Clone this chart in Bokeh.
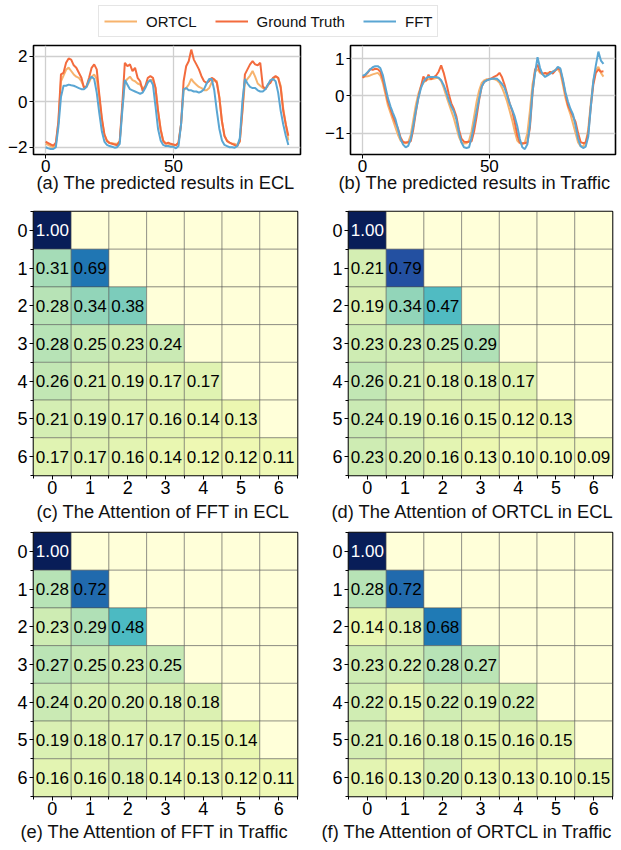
from bokeh.plotting import figure
from bokeh.models import Range1d, FixedTicker, Legend, LegendItem, LinearColorMapper, ColumnDataSource, Title
from bokeh.layouts import column, row
from bokeh.palettes import YlGnBu9
from bokeh.core.properties import value, field
from bokeh.embed import file_html
from bokeh.resources import INLINE

FONT = "Liberation Sans"

# ---------------- data ----------------
steps = list(range(96))
series_names = ["ORTCL", "Ground Truth", "FFT"]
series_colors = ["#f7b36d", "#f36b3d", "#5aa6d3"]

ecl_ortcl = [-1.85, -1.9, -1.95, -2.0, -1.9, -0.9, 0.9, 1.15, 1.4, 1.5, 1.35, 1.2, 1.1, 1.05, 0.9, 0.65,
             0.65, 0.85, 1.1, 1.2, 1.0, 0.2, -0.8, -1.45, -1.7, -1.8, -1.82, -1.85, -1.85, -1.75, -0.3, 0.85,
             1.0, 1.1, 0.95, 0.9, 0.8, 0.75, 0.6, 0.65, 0.85, 0.95, 0.95, 0.6, -0.4, -1.2, -1.7, -1.82,
             -1.85, -1.88, -1.9, -1.9, -1.8, -1.0, 0.5, 0.6, 0.75, 1.0, 0.85, 0.75, 0.65, 0.6, 0.5, 0.5,
             0.6, 0.85, 0.95, 0.9, 0.2, -0.85, -1.5, -1.7, -1.8, -1.85, -1.85, -1.9, -1.75, -0.45, 0.85, 1.0,
             1.15, 1.35, 1.1, 0.8, 0.7, 0.6, 0.55, 0.7, 0.9, 1.0, 1.1, 1.05, 0.7, -0.3, -1.0, -1.7]
ecl_truth = [-1.76, -1.82, -1.88, -1.93, -1.8, -0.86, 1.2, 1.27, 1.71, 1.9, 1.85, 1.6, 1.49, 1.27, 1.05, 0.61,
             0.68, 1.05, 1.49, 1.64, 1.42, 0.32, -0.71, -1.44, -1.73, -1.82, -1.85, -1.88, -1.91, -1.73, -0.12, 1.71,
             1.56, 1.64, 1.34, 1.49, 1.05, 0.9, 0.46, 0.68, 1.05, 1.12, 1.05, 0.61, -0.41, -1.22, -1.73, -1.85,
             -1.8, -1.85, -1.88, -1.91, -1.8, -1.0, 0.9, 1.56, 1.78, 2.29, 1.85, 1.64, 1.42, 1.12, 0.9, 0.83,
             0.9, 1.05, 0.98, 0.83, 0.17, -0.86, -1.51, -1.73, -1.8, -1.85, -1.91, -1.95, -1.73, -0.41, 1.2, 1.42,
             1.64, 1.78, 1.64, 1.6, 1.71, 0.68, 0.54, 0.76, 0.83, 1.05, 1.12, 1.05, 0.61, -0.41, -1.0, -1.5]
ecl_fft = [-2.0, -2.05, -2.08, -2.08, -2.0, -1.1, 0.2, 0.7, 0.7, 0.75, 0.72, 0.7, 0.65, 0.6, 0.55, 0.55,
           0.65, 0.95, 1.1, 1.0, 0.4, -0.5, -1.3, -1.75, -1.9, -1.95, -1.98, -2.02, -2.0, -1.85, -0.4, 0.95,
           0.75, 0.55, 0.5, 0.45, 0.4, 0.35, 0.4, 0.6, 0.85, 0.95, 0.75, -0.2, -1.2, -1.7, -1.9, -1.95,
           -1.95, -1.98, -1.98, -2.05, -1.95, -1.0, 0.55, 0.6, 0.5, 0.5, 0.45, 0.45, 0.4, 0.45, 0.55, 0.8,
           1.0, 1.0, 0.5, -0.4, -1.2, -1.7, -1.9, -1.95, -2.0, -2.0, -2.02, -1.95, -1.6, 0.0, 1.0, 0.8,
           0.65, 0.6, 0.6, 0.5, 0.45, 0.45, 0.55, 0.75, 0.95, 1.0, 0.9, 0.4, -0.4, -1.0, -1.5, -1.9]

tr_ortcl = [0.50, 0.52, 0.53, 0.55, 0.58, 0.60, 0.62, 0.55, 0.35, 0.05, -0.25, -0.45, -0.65, -0.85, -1.05, -1.20,
            -1.25, -1.27, -1.25, -1.05, -0.65, -0.25, 0.05, 0.25, 0.35, 0.42, 0.45, 0.45, 0.46, 0.48, 0.48, 0.40,
            0.22, 0.00, -0.20, -0.40, -0.60, -0.85, -1.10, -1.25, -1.28, -1.27, -1.20, -0.95, -0.55, -0.15, 0.15, 0.35,
            0.42, 0.45, 0.45, 0.46, 0.45, 0.42, 0.35, 0.22, 0.05, -0.15, -0.40, -0.65, -0.95, -1.20, -1.27, -1.30,
            -1.25, -1.00, -0.40, 0.30, 0.65, 0.72, 0.62, 0.58, 0.60, 0.62, 0.62, 0.65, 0.70, 0.72, 0.62, 0.30,
            -0.05, -0.30, -0.50, -0.75, -1.00, -1.25, -1.35, -1.35, -1.25, -0.90, -0.20, 0.40, 0.70, 0.78, 0.62, 0.52]
tr_truth = [0.49, 0.55, 0.62, 0.72, 0.70, 0.73, 0.72, 0.65, 0.45, 0.15, -0.15, -0.35, -0.55, -0.72, -0.88, -1.12,
            -1.24, -1.25, -1.24, -1.22, -0.90, -0.45, -0.05, 0.25, 0.52, 0.40, 0.57, 0.45, 0.50, 0.55, 0.65, 0.82,
            0.62, 0.35, 0.05, -0.20, -0.35, -0.55, -0.90, -1.15, -1.23, -1.24, -1.23, -1.22, -0.95, -0.55, -0.10, 0.25,
            0.38, 0.42, 0.45, 0.48, 0.52, 0.55, 0.62, 0.50, 0.30, 0.05, -0.20, -0.40, -0.70, -1.05, -1.25, -1.27,
            -1.27, -1.25, -0.85, 0.05, 0.70, 0.84, 0.65, 0.60, 0.62, 0.58, 0.65, 0.60, 0.68, 0.75, 0.70, 0.40,
            0.05, -0.25, -0.40, -0.55, -0.70, -1.00, -1.24, -1.27, -1.25, -1.00, -0.30, 0.30, 0.62, 0.71, 0.65, 0.66]
tr_fft = [0.54, 0.57, 0.64, 0.71, 0.77, 0.80, 0.80, 0.75, 0.56, 0.25, -0.06, -0.28, -0.46, -0.63, -0.90, -1.16,
          -1.31, -1.38, -1.34, -1.16, -0.81, -0.41, -0.06, 0.20, 0.38, 0.47, 0.51, 0.51, 0.51, 0.51, 0.49, 0.42,
          0.29, 0.11, -0.11, -0.28, -0.41, -0.63, -0.99, -1.25, -1.38, -1.40, -1.38, -1.12, -0.77, -0.41, -0.06, 0.25,
          0.38, 0.42, 0.44, 0.46, 0.47, 0.46, 0.40, 0.32, 0.22, 0.02, -0.20, -0.37, -0.55, -0.81, -1.15, -1.38,
          -1.43, -1.30, -0.77, 0.10, 0.60, 1.04, 0.75, 0.58, 0.51, 0.55, 0.60, 0.65, 0.69, 0.78, 0.74, 0.45,
          0.10, -0.15, -0.35, -0.50, -0.80, -1.15, -1.35, -1.40, -1.36, -1.10, -0.30, 0.40, 0.82, 1.19, 0.95, 0.86]

# attention matrices (lower triangle, row by row)
att_fft_ecl = [[1.00],
               [0.31, 0.69],
               [0.28, 0.34, 0.38],
               [0.28, 0.25, 0.23, 0.24],
               [0.26, 0.21, 0.19, 0.17, 0.17],
               [0.21, 0.19, 0.17, 0.16, 0.14, 0.13],
               [0.17, 0.17, 0.16, 0.14, 0.12, 0.12, 0.11]]
att_ortcl_ecl = [[1.00],
                 [0.21, 0.79],
                 [0.19, 0.34, 0.47],
                 [0.23, 0.23, 0.25, 0.29],
                 [0.26, 0.21, 0.18, 0.18, 0.17],
                 [0.24, 0.19, 0.16, 0.15, 0.12, 0.13],
                 [0.23, 0.20, 0.16, 0.13, 0.10, 0.10, 0.09]]
att_fft_traffic = [[1.00],
                   [0.28, 0.72],
                   [0.23, 0.29, 0.48],
                   [0.27, 0.25, 0.23, 0.25],
                   [0.24, 0.20, 0.20, 0.18, 0.18],
                   [0.19, 0.18, 0.17, 0.17, 0.15, 0.14],
                   [0.16, 0.16, 0.18, 0.14, 0.13, 0.12, 0.11]]
att_ortcl_traffic = [[1.00],
                     [0.28, 0.72],
                     [0.14, 0.18, 0.68],
                     [0.23, 0.22, 0.28, 0.27],
                     [0.22, 0.15, 0.22, 0.19, 0.22],
                     [0.21, 0.16, 0.18, 0.15, 0.16, 0.15],
                     [0.16, 0.13, 0.20, 0.13, 0.13, 0.10, 0.15]]
lags = [0, 1, 2, 3, 4, 5, 6]

captions = ["(a) The predicted results in ECL", "(b) The predicted results in Traffic",
            "(c) The Attention of FFT in ECL", "(d) The Attention of ORTCL in ECL",
            "(e) The Attention of FFT in Traffic", "(f) The Attention of ORTCL in Traffic"]


# ---------------- helpers ----------------
def interp_pal(base, n):
    rgb = [tuple(int(h[i:i + 2], 16) for i in (1, 3, 5)) for h in base]
    out = []
    m = len(rgb) - 1
    for k in range(n):
        t = k / (n - 1) * m
        i = min(int(t), m - 1)
        f = t - i
        c = tuple(round(rgb[i][j] + (rgb[i + 1][j] - rgb[i][j]) * f) for j in range(3))
        out.append("#%02x%02x%02x" % c)
    return out


PAL = interp_pal(list(YlGnBu9)[::-1], 256)


def minus(v):
    return ("%g" % v).replace("-", "\u2212")


def style_axes(p, tick_size):
    for ax in p.axis:
        ax.axis_line_color = None
        ax.major_tick_line_color = "black"
        ax.major_tick_out = 4
        ax.major_tick_in = 0
        ax.major_label_text_font = FONT
        ax.major_label_text_font_size = tick_size
        ax.major_label_text_color = "black"
    p.xaxis.major_label_standoff = 1
    p.yaxis.major_label_standoff = 2
    p.outline_line_color = "black"
    p.outline_line_width = 1.6
    p.outline_line_alpha = 1.0


def add_caption(p, text, offset, standoff):
    t = Title(text=text, align="left", offset=offset, standoff=standoff, vertical_align="top",
              text_font=FONT, text_font_size="18.3px", text_font_style="normal", text_color="#111111")
    p.add_layout(t, "below")


def line_fig(data, ylo, yhi, yticks, caption, width, bl, br, cap_offset):
    p = figure(width=width, height=158, x_range=Range1d(-4.75, 99.75), y_range=Range1d(ylo, yhi),
               output_backend="svg", toolbar_location=None,
               min_border_left=bl, min_border_right=br, min_border_top=5, min_border_bottom=44)
    for ys, c in zip(data, series_colors):
        p.line(steps, ys, line_color=c, line_width=2)
    p.xaxis.ticker = FixedTicker(ticks=[0, 50])
    p.yaxis.ticker = FixedTicker(ticks=yticks)
    p.yaxis.major_label_overrides = {t: minus(t) for t in yticks}
    for ax in p.axis:
        ax.minor_tick_line_color = None
    style_axes(p, "17px")
    add_caption(p, caption, cap_offset, -5)
    p.xgrid.grid_line_color = "#cfcfcf"
    p.ygrid.grid_line_color = "#cfcfcf"
    p.xgrid.grid_line_width = 1.3
    p.ygrid.grid_line_width = 1.3
    return p


def heat_fig(rows, caption, width, height, bl, br, bt, bb, cap_offset, cap_standoff):
    xs, ys, vs = [], [], []
    tx, ty, tt, tc = [], [], [], []
    for r in lags:
        for c in lags:
            v = rows[r][c] if c <= r else 0.0
            xs.append(c)
            ys.append(r)
            vs.append(v)
            if c <= r:
                tx.append(c)
                ty.append(r)
                tt.append("%.2f" % v)
                tc.append("white" if v >= 0.9 else "black")
    p = figure(width=width, height=height, x_range=Range1d(-0.5, 6.5), y_range=Range1d(6.5, -0.5),
               output_backend="svg", toolbar_location=None,
               min_border_left=bl, min_border_right=br, min_border_top=bt, min_border_bottom=bb)
    mapper = LinearColorMapper(palette=PAL, low=0, high=1)
    src = ColumnDataSource(dict(x=xs, y=ys, v=vs))
    p.rect(x="x", y="y", width=1, height=1, source=src,
           fill_color={"field": "v", "transform": mapper},
           line_color="#505050", line_alpha=0.6, line_width=0.8)
    tsrc = ColumnDataSource(dict(x=tx, y=ty, t=tt, c=tc))
    p.text(x="x", y="y", text="t", source=tsrc, text_align="center", text_baseline="middle",
           text_font=value(FONT), text_font_size="17px", text_color=field("c"))
    edges = [i - 0.5 for i in range(8)]
    for ax in p.axis:
        ax.ticker = FixedTicker(ticks=lags, minor_ticks=edges)
        ax.minor_tick_line_color = "black"
        ax.minor_tick_out = 3
        ax.minor_tick_in = 0
    style_axes(p, "18px")
    add_caption(p, caption, cap_offset, cap_standoff)
    p.grid.grid_line_color = None
    return p


# ---------------- legend strip ----------------
lg = figure(width=621, height=40, x_range=Range1d(1000, 1001), y_range=Range1d(1000, 1001),
            x_axis_type=None, y_axis_type=None, output_backend="svg", toolbar_location=None,
            min_border=0)
lg.outline_line_color = None
lg.grid.grid_line_color = None
items = []
for name, c, ys in zip(series_names, series_colors, [ecl_ortcl, ecl_truth, ecl_fft]):
    r = lg.line(x=steps, y=ys, line_color=c, line_width=2)
    items.append(LegendItem(label=name, renderers=[r]))
leg = Legend(items=items, orientation="horizontal", location=(98, 3),
             label_text_font=FONT, label_text_font_size="15px", label_text_color="#111111",
             glyph_width=33, glyph_height=20, label_height=20, label_standoff=9, spacing=18,
             padding=5, margin=0, border_line_color="#cccccc", border_line_width=1,
             background_fill_color="white")
lg.add_layout(leg)

# ---------------- panels ----------------
pa = line_fig([ecl_ortcl, ecl_truth, ecl_fft], -2.32, 2.47, [-2, 0, 2], captions[0], 322, 33, 22, 3)
pb = line_fig([tr_ortcl, tr_truth, tr_fft], -1.574, 1.355, [-1, 0, 1], captions[1], 299, 26, 6, -12)
pc = heat_fig(att_fft_ecl, captions[2], 322, 333, 33, 25, 13, 56, 3, 9)
pd = heat_fig(att_ortcl_ecl, captions[3], 299, 333, 26, 9, 13, 56, -17, 9)
pe = heat_fig(att_fft_traffic, captions[4], 322, 319, 33, 25, 1, 54, -13, 6)
pf = heat_fig(att_ortcl_traffic, captions[5], 299, 319, 26, 9, 1, 54, -27, 6)

layout = column(lg, row(pa, pb), row(pc, pd), row(pe, pf))

open("out.html", "w").write(file_html(layout, INLINE))
